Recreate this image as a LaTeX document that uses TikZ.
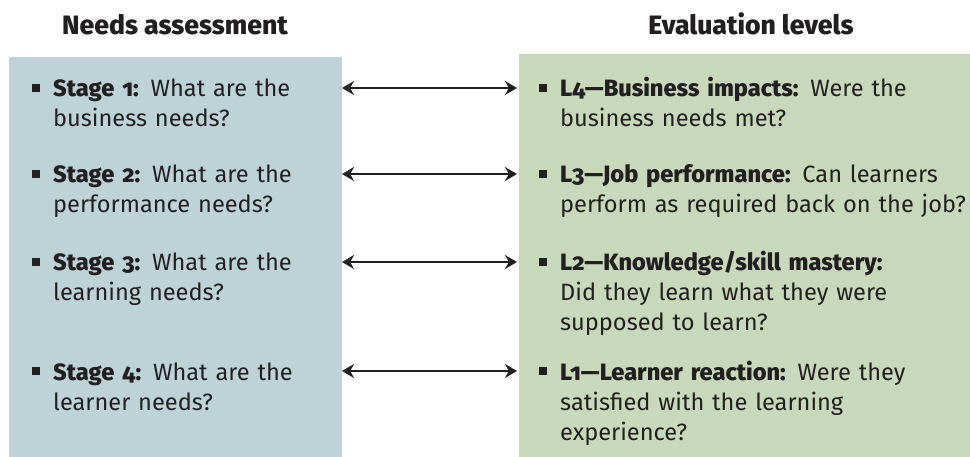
\documentclass[tikz,border=0pt]{standalone}
\usepackage{fontspec}
\setmainfont{Fira Sans}[Numbers=OldStyle, BoldFont={Fira Sans ExtraBold}]
\usetikzlibrary{arrows.meta}

\definecolor{needsblue}{RGB}{190,211,216}
\definecolor{levelgreen}{RGB}{200,216,187}
\definecolor{inkgrey}{RGB}{35,31,32}

\tikzset{
    colbox/.style={anchor=north west, inner sep=0pt, outer sep=0pt},
    heading/.style={anchor=base, font=\fontsize{26.6}{30}\selectfont\bfseries, text=inkgrey},
    item/.style={anchor=base west, inner sep=0pt, align=left, font=\fontsize{23.6}{30}\selectfont, text=inkgrey},
    linkarrow/.style={{Stealth[length=12pt,width=14pt]}-{Stealth[length=12pt,width=14pt]}, line width=1.8pt, draw=inkgrey}
}
\newcommand{\sqbullet}{\llap{\textcolor{inkgrey}{\rule[5pt]{8pt}{8pt}}\hspace{13pt}}}

\begin{document}
\begin{tikzpicture}[x=1pt,y=-1pt]
    \useasboundingbox (0,0) rectangle (970,457);
    % the two columns
    \node[colbox, fill=needsblue, minimum width=333pt, minimum height=400pt] (needs) at (9,57) {};
    \node[colbox, fill=levelgreen, minimum width=451pt, minimum height=403pt] (levels) at (519,54) {};
    \node[heading] (needshead) at (175,35) {Needs assessment};
    \node[heading] (levelshead) at (751,35) {Evaluation levels};
    % needs assessment stages
    \node[item, text width=285pt] (s1) at (53,97) {\sqbullet\textbf{Stage 1:} What are the\\business needs?};
    \node[item, text width=285pt] (s2) at (53,183) {\sqbullet\textbf{Stage 2:} What are the\\performance needs?};
    \node[item, text width=285pt] (s3) at (53,271) {\sqbullet\textbf{Stage 3:} What are the\\learning needs?};
    \node[item, text width=285pt] (s4) at (53,380) {\sqbullet\textbf{Stage 4:} What are the\\learner needs?};
    % evaluation levels
    \node[item, text width=415pt] (l4) at (560,97) {\sqbullet\textbf{L4—Business impacts:} Were the\\business needs met?};
    \node[item, text width=415pt] (l3) at (560,183) {\sqbullet\textbf{L3—Job performance:} Can learners\\perform as required back on the job?};
    \node[item, text width=415pt] (l2) at (560,271) {\sqbullet\textbf{L2—Knowledge/skill mastery:}\\Did they learn what they were\\supposed to learn?};
    \node[item, text width=415pt] (l1) at (560,380) {\sqbullet\textbf{L1—Learner reaction:} Were they\\satisfied with the learning\\experience?};
    % links
    \foreach \i in {1,...,4}
        \draw[linkarrow] ([yshift=9pt]needs.east |- s\i.base) -- ([xshift=-2pt,yshift=9pt]levels.west |- s\i.base);
\end{tikzpicture}
\end{document}
